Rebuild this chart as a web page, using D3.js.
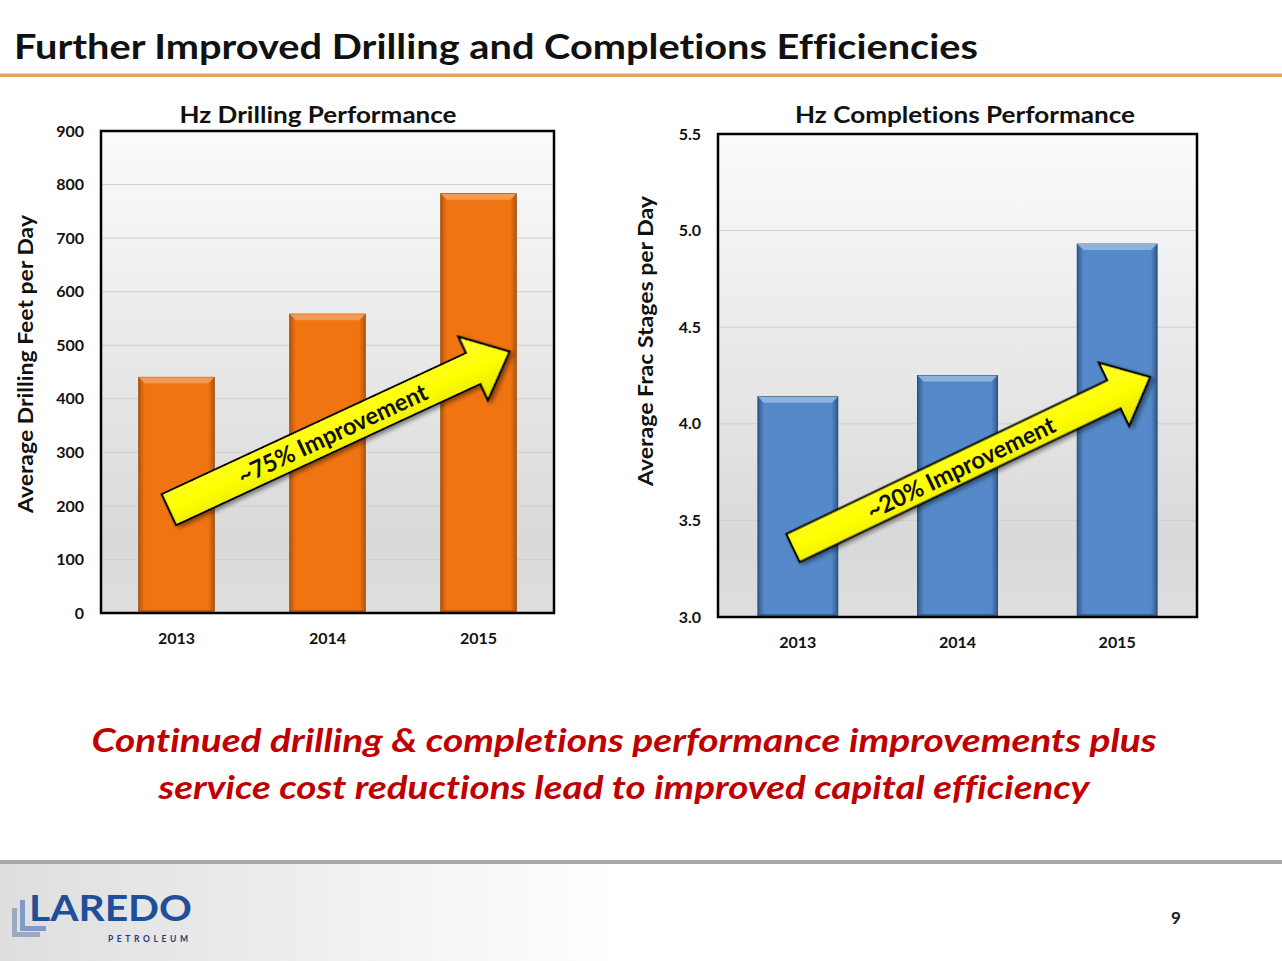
<!DOCTYPE html>
<html>
<head>
<meta charset="utf-8">
<script src="https://cdn.jsdelivr.net/npm/d3@7"></script>
<style>
  html, body { margin: 0; padding: 0; background: #ffffff; }
  svg { display: block; }
  text { font-family: Lato, "Open Sans", "Noto Sans", sans-serif; font-variant-ligatures: none; font-feature-settings: "liga" 0, "clig" 0, "dlig" 0; }
</style>
</head>
<body>
<script>
// ---------------- DATA ----------------
const years = ["2013", "2014", "2015"];
const drillingFeetPerDay = [440, 558, 783];
const fracStagesPerDay = [4.14, 4.25, 4.93];
const drillingTicks = [0, 100, 200, 300, 400, 500, 600, 700, 800, 900];
const fracTicks = [3.0, 3.5, 4.0, 4.5, 5.0, 5.5];
const pageTitle = "Further Improved Drilling and Completions Efficiencies";
const drillingTitle = "Hz Drilling Performance";
const completionsTitle = "Hz Completions Performance";
const drillingAxisTitle = "Average Drilling Feet per Day";
const fracAxisTitle = "Average Frac Stages per Day";
const drillingNote = "~75% Improvement";
const completionsNote = "~20% Improvement";
const summaryLines = [
  "Continued drilling & completions performance improvements plus",
  "service cost reductions lead to improved capital efficiency"
];
const pageNumber = "9";
// arrow annotations in data space: [category, offset within band (fraction of step), value]
const drillingArrow = { from: ["2013", -0.05, 193], to: ["2015", 0.205, 488] };
const completionsArrow = { from: ["2013", -0.03, 3.357], to: ["2015", 0.206, 4.242] };

// ---------------- SVG ----------------
const W = 1282, H = 961;
const svg = d3.select("body").append("svg").attr("width", W).attr("height", H);
const defs = svg.append("defs");

const bg = defs.append("linearGradient").attr("id", "plotBg").attr("x1", 0).attr("y1", 0).attr("x2", 0).attr("y2", 1);
bg.append("stop").attr("offset", "0%").attr("stop-color", "#fbfbfb");
bg.append("stop").attr("offset", "85%").attr("stop-color", "#d9d9d9");
bg.append("stop").attr("offset", "100%").attr("stop-color", "#dedede");

const fg = defs.append("linearGradient").attr("id", "footBg").attr("x1", 0).attr("y1", 0).attr("x2", 1).attr("y2", 0);
fg.append("stop").attr("offset", "0%").attr("stop-color", "#dedede");
fg.append("stop").attr("offset", "48%").attr("stop-color", "#ffffff");
fg.append("stop").attr("offset", "100%").attr("stop-color", "#ffffff");

function barGradient(id, edge, main) {
  const g = defs.append("linearGradient").attr("id", id).attr("x1", 0).attr("y1", 0).attr("x2", 1).attr("y2", 0);
  g.append("stop").attr("offset", "0%").attr("stop-color", edge);
  g.append("stop").attr("offset", "8%").attr("stop-color", main);
  g.append("stop").attr("offset", "92%").attr("stop-color", main);
  g.append("stop").attr("offset", "100%").attr("stop-color", edge);
}
barGradient("orangeBar", "#b4560c", "#f07412");
barGradient("blueBar", "#2f5c93", "#5589c9");

const yg = defs.append("linearGradient").attr("id", "yellowArrow").attr("x1", 0).attr("y1", 0).attr("x2", 0).attr("y2", 1);
yg.append("stop").attr("offset", "0%").attr("stop-color", "#ffff3a");
yg.append("stop").attr("offset", "50%").attr("stop-color", "#ffff00");
yg.append("stop").attr("offset", "100%").attr("stop-color", "#e2e200");

const sh = defs.append("filter").attr("id", "shadow").attr("x", "-20%").attr("y", "-20%").attr("width", "140%").attr("height", "160%");
sh.append("feDropShadow").attr("dx", 2).attr("dy", 3).attr("stdDeviation", 2).attr("flood-color", "#000").attr("flood-opacity", 0.45);

// ---------------- HEADER ----------------
svg.append("text").attr("x", 14).attr("y", 59)
  .attr("font-size", 35).attr("font-weight", 700).attr("fill", "#111")
  .attr("textLength", 964).attr("lengthAdjust", "spacingAndGlyphs")
  .text(pageTitle);
svg.append("rect").attr("x", 0).attr("y", 73.5).attr("width", W).attr("height", 3.5).attr("fill", "#dfa862");

// ---------------- CHART FACTORY ----------------
function drawChart(cfg) {
  const g = svg.append("g");
  const x = d3.scaleBand().domain(years).range([cfg.left, cfg.right]).paddingInner(0.5).paddingOuter(0.25);
  const y = d3.scaleLinear().domain(cfg.domain).range([cfg.bottom, cfg.top]);

  g.append("rect").attr("x", cfg.left).attr("y", cfg.top)
    .attr("width", cfg.right - cfg.left).attr("height", cfg.bottom - cfg.top)
    .attr("fill", "url(#plotBg)");

  g.append("g").selectAll("line").data(cfg.ticks.slice(1, -1)).join("line")
    .attr("x1", cfg.left).attr("x2", cfg.right)
    .attr("y1", d => y(d)).attr("y2", d => y(d))
    .attr("stroke", "#cfcfcf").attr("stroke-width", 1);

  const bars = g.append("g").selectAll("g").data(cfg.values.map((v, i) => ({ cat: years[i], v }))).join("g");
  bars.append("rect")
    .attr("x", d => x(d.cat)).attr("y", d => y(d.v))
    .attr("width", x.bandwidth()).attr("height", d => y(cfg.domain[0]) - y(d.v))
    .attr("fill", cfg.fill).attr("stroke", cfg.stroke).attr("stroke-width", 1);
  const bev = 6;
  bars.append("path")
    .attr("d", d => {
      const x0 = x(d.cat), x1 = x0 + x.bandwidth(), y0 = y(d.v);
      return `M${x0},${y0}L${x1},${y0}L${x1 - bev},${y0 + bev}L${x0 + bev},${y0 + bev}Z`;
    })
    .attr("fill", cfg.bevel);
  bars.append("path")
    .attr("d", d => {
      const x0 = x(d.cat), x1 = x0 + x.bandwidth(), y0 = y(cfg.domain[0]);
      return `M${x0},${y0}L${x1},${y0}L${x1 - 3},${y0 - 3}L${x0 + 3},${y0 - 3}Z`;
    })
    .attr("fill", cfg.stroke).attr("opacity", 0.6);

  g.append("rect").attr("x", cfg.left).attr("y", cfg.top)
    .attr("width", cfg.right - cfg.left).attr("height", cfg.bottom - cfg.top)
    .attr("fill", "none").attr("stroke", "#000").attr("stroke-width", 2.5);

  const ya = g.append("g").attr("transform", `translate(${cfg.left},0)`)
    .call(d3.axisLeft(y).tickValues(cfg.ticks).tickSize(0).tickPadding(17).tickFormat(cfg.fmt));
  ya.select(".domain").remove();
  ya.selectAll("text").attr("font-size", 16).attr("font-weight", 700).attr("fill", "#111")
    .attr("font-family", "Lato, sans-serif");

  const xa = g.append("g").attr("transform", `translate(0,${cfg.bottom})`)
    .call(d3.axisBottom(x).tickSize(0).tickPadding(20));
  xa.select(".domain").remove();
  xa.selectAll("text").attr("font-size", 16).attr("font-weight", 700).attr("fill", "#111")
    .attr("font-family", "Lato, sans-serif");

  g.append("text").attr("x", cfg.titleX).attr("y", 123).attr("text-anchor", "middle")
    .attr("font-size", 23).attr("font-weight", 700).attr("fill", "#111")
    .attr("textLength", cfg.titleLen).attr("lengthAdjust", "spacingAndGlyphs")
    .text(cfg.title);

  g.append("text").attr("transform", `translate(${cfg.ytX},${cfg.ytY}) rotate(-90)`)
    .attr("text-anchor", "middle").attr("dy", "0.35em")
    .attr("font-size", 20).attr("font-weight", 700).attr("fill", "#111")
    .attr("textLength", cfg.ytLen).attr("lengthAdjust", "spacingAndGlyphs")
    .text(cfg.yTitle);

  const a = cfg.arrow;
  const px = p => x(p[0]) + x.bandwidth() / 2 + p[1] * x.step();
  const x0 = px(a.from), y0 = y(a.from[2]), x1 = px(a.to), y1 = y(a.to[2]);
  const len = Math.hypot(x1 - x0, y1 - y0);
  const ang = Math.atan2(y1 - y0, x1 - x0) * 180 / Math.PI;
  const sw = cfg.shaft / 2, hw = cfg.head / 2, hl = 40;
  const ag = g.append("g").attr("transform", `translate(${x0},${y0}) rotate(${ang})`);
  ag.append("path")
    .attr("d", `M0,${-sw}L${len - hl},${-sw}L${len - hl},${-hw}L${len},0L${len - hl},${hw}L${len - hl},${sw}L0,${sw}Z`)
    .attr("fill", "url(#yellowArrow)").attr("stroke", "#000").attr("stroke-width", 2.2)
    .attr("stroke-linejoin", "miter").attr("filter", "url(#shadow)");
  ag.append("text").attr("x", len * cfg.noteAt).attr("y", 0).attr("dy", "0.36em")
    .attr("text-anchor", "middle").attr("font-size", 24).attr("font-weight", 700).attr("fill", "#111")
    .attr("textLength", 206).attr("lengthAdjust", "spacingAndGlyphs")
    .text(cfg.note);
}

drawChart({
  left: 101, right: 554, top: 131, bottom: 613,
  domain: [0, 900], ticks: drillingTicks, fmt: d3.format("d"),
  values: drillingFeetPerDay,
  fill: "url(#orangeBar)", stroke: "#a04c08", bevel: "#f49a52",
  title: drillingTitle, titleX: 318, titleLen: 277,
  yTitle: drillingAxisTitle, ytX: 26, ytY: 364, ytLen: 298,
  arrow: drillingArrow, shaft: 34, head: 70, note: drillingNote, noteAt: 0.48
});

drawChart({
  left: 718, right: 1197, top: 134, bottom: 617,
  domain: [3.0, 5.5], ticks: fracTicks, fmt: d3.format(".1f"),
  values: fracStagesPerDay,
  fill: "url(#blueBar)", stroke: "#27466e", bevel: "#8db2de",
  title: completionsTitle, titleX: 965, titleLen: 340,
  yTitle: fracAxisTitle, ytX: 646, ytY: 341, ytLen: 290,
  arrow: completionsArrow, shaft: 31, head: 70, note: completionsNote, noteAt: 0.47
});

// ---------------- SUMMARY ----------------
const sumLens = [1065, 931];
svg.append("g").selectAll("text").data(summaryLines).join("text")
  .attr("x", 624).attr("y", (d, i) => 752 + i * 47)
  .attr("text-anchor", "middle")
  .attr("font-family", "'Open Sans', sans-serif")
  .attr("font-size", 33).attr("font-weight", 700).attr("font-style", "italic")
  .attr("fill", "#c00000")
  .attr("textLength", (d, i) => sumLens[i]).attr("lengthAdjust", "spacingAndGlyphs")
  .text(d => d);

// ---------------- FOOTER ----------------
svg.append("rect").attr("x", 0).attr("y", 864).attr("width", W).attr("height", H - 864).attr("fill", "url(#footBg)");
svg.append("rect").attr("x", 0).attr("y", 860).attr("width", W).attr("height", 4).attr("fill", "#a9a9a9");

const logo = svg.append("g");
logo.append("path").attr("d", "M12,908 L17,908 L17,932 L40,932 L40,937 L12,937 Z").attr("fill", "#9aa9bf");
logo.append("path").attr("d", "M20,900 L25,900 L25,926 L46,926 L46,931 L20,931 Z").attr("fill", "#7f9bc8");
logo.append("text").attr("x", 29).attr("y", 921)
  .attr("font-family", "'DejaVu Sans', sans-serif").attr("font-size", 37).attr("font-weight", 700)
  .attr("fill", "#1f4f99").attr("textLength", 163).attr("lengthAdjust", "spacingAndGlyphs")
  .text("LAREDO");
logo.append("text").attr("x", 108).attr("y", 942)
  .attr("font-family", "'DejaVu Sans', sans-serif").attr("font-size", 8.5).attr("font-weight", 700)
  .attr("fill", "#1f3f70").attr("textLength", 80).attr("lengthAdjust", "spacing")
  .text("PETROLEUM");

svg.append("text").attr("x", 1176).attr("y", 924).attr("text-anchor", "middle")
  .attr("font-size", 17).attr("font-weight", 700).attr("fill", "#222")
  .text(pageNumber);
</script>
</body>
</html>
